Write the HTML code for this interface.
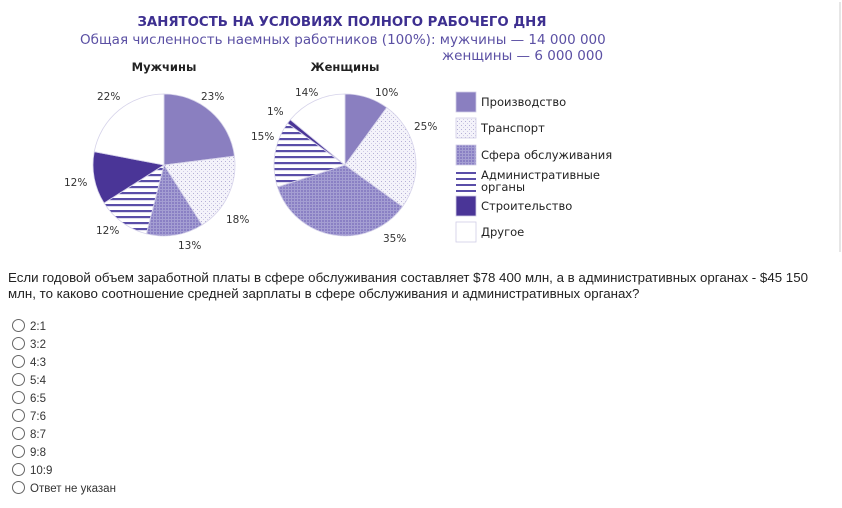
<!DOCTYPE html>
<html><head><meta charset="utf-8"><style>
body{margin:0;width:842px;height:508px;background:#fff;overflow:hidden;position:relative;font-family:"Liberation Sans",sans-serif}
.q{position:absolute;left:8px;top:270px;font-size:13.3px;color:#222;line-height:16px;width:830px}
.opt{position:absolute;left:12px;font-size:11.5px;color:#333}
.opt i{display:inline-block;width:11px;height:11px;border:1px solid #666;border-radius:50%;vertical-align:-2px;margin-right:5px}
</style></head><body>
<svg id="s" width="842" height="260" style="position:absolute;left:0;top:0" font-family="DejaVu Sans, sans-serif">
<defs>
<pattern id="dots" width="4" height="4" patternUnits="userSpaceOnUse"><rect width="4" height="4" fill="#f4f3fa"/><rect x="1" y="1" width="1" height="1" fill="#b5b0d6"/><rect x="3" y="3" width="1" height="1" fill="#cfcbe6"/></pattern>
<pattern id="grid" width="3" height="3" patternUnits="userSpaceOnUse"><rect width="3" height="3" fill="#8a80c4"/><rect width="3" height="1" fill="#a49ed2"/><rect width="1" height="3" fill="#a49ed2"/></pattern>
<pattern id="str" width="6" height="6" patternUnits="userSpaceOnUse"><rect width="6" height="6" fill="#fff"/><rect y="0" width="6" height="2.2" fill="#5a4ea8"/></pattern>
</defs>
<line x1="840" y1="2" x2="840" y2="252" stroke="#ccc"/>
<text x="342" y="26" text-anchor="middle" font-weight="bold" font-size="13.3" fill="#3d2f90">ЗАНЯТОСТЬ НА УСЛОВИЯХ ПОЛНОГО РАБОЧЕГО ДНЯ</text>
<text x="80" y="44" font-size="13.5" fill="#5b50a4">Общая численность наемных работников (100%):  мужчины — 14 000 000</text>
<text x="442" y="60" font-size="13.5" fill="#5b50a4">женщины — 6 000 000</text>
<text x="164" y="71" text-anchor="middle" font-weight="bold" font-size="11.5" fill="#222">Мужчины</text>
<text x="345" y="71" text-anchor="middle" font-weight="bold" font-size="11.5" fill="#222">Женщины</text>
<g id="p" stroke="#d6d3ea" stroke-width="0.8"></g>
<g font-size="10.5" fill="#333">
<text x="97" y="100">22%</text><text x="201" y="100">23%</text><text x="64" y="186">12%</text><text x="226" y="223">18%</text><text x="96" y="234">12%</text><text x="178" y="249">13%</text>
<text x="295" y="96">14%</text><text x="375" y="96">10%</text><text x="267" y="115">1%</text><text x="251" y="140">15%</text><text x="414" y="130">25%</text><text x="383" y="242">35%</text>
</g>
<g stroke="#d0cde6" stroke-width="0.8">
<rect x="456" y="92" width="20" height="20" fill="#8a7fc0"/>
<rect x="456" y="118" width="20" height="20" fill="url(#dots)"/>
<rect x="456" y="145" width="20" height="20" fill="url(#grid)"/>
<rect x="456" y="196" width="20" height="20" fill="#4a3597"/>
<rect x="456" y="222" width="20" height="20" fill="#fff"/>
</g>
<g fill="#5a4ea8"><rect x="456" y="172" width="20" height="2"/><rect x="456" y="178" width="20" height="2"/><rect x="456" y="184" width="20" height="2"/><rect x="456" y="190" width="20" height="2"/></g>
<g font-size="11.5" fill="#222">
<text x="481" y="106">Производство</text><text x="481" y="132">Транспорт</text><text x="481" y="159">Сфера обслуживания</text>
<text x="481" y="179">Административные</text><text x="481" y="191">органы</text>
<text x="481" y="210">Строительство</text><text x="481" y="236">Другое</text>
</g>
</svg>
<script>
var fills=["#8a7fc0","url(#dots)","url(#grid)","url(#str)","#4a3597","#fff"];
function pie(cx,cy,r,v){var a=0,g=document.getElementById('p'),h='';
for(var i=0;i<v.length;i++){var b=a+v[i]/100*2*Math.PI;
var x1=cx+r*Math.sin(a),y1=cy-r*Math.cos(a),x2=cx+r*Math.sin(b),y2=cy-r*Math.cos(b);
h+='<path d="M'+cx+','+cy+'L'+x1+','+y1+'A'+r+','+r+' 0 '+(b-a>Math.PI?1:0)+' 1 '+x2+','+y2+'Z" fill="'+fills[i]+'"/>';a=b;}
g.innerHTML+=h;}
pie(164,165,71,[23,18,13,12,12,22]);
pie(345,165,71,[10,25,35,15,1,14]);
</script>
<div class="q">Если годовой объем заработной платы в сфере обслуживания составляет $78 400 млн, а в административных органах - $45 150 млн, то каково соотношение средней зарплаты в сфере обслуживания и административных органах?</div>
<div class="opt" style="top:319px"><i></i>2:1</div>
<div class="opt" style="top:337px"><i></i>3:2</div>
<div class="opt" style="top:355px"><i></i>4:3</div>
<div class="opt" style="top:373px"><i></i>5:4</div>
<div class="opt" style="top:391px"><i></i>6:5</div>
<div class="opt" style="top:409px"><i></i>7:6</div>
<div class="opt" style="top:427px"><i></i>8:7</div>
<div class="opt" style="top:445px"><i></i>9:8</div>
<div class="opt" style="top:463px"><i></i>10:9</div>
<div class="opt" style="top:481px"><i></i>Ответ не указан</div>
</body></html>
